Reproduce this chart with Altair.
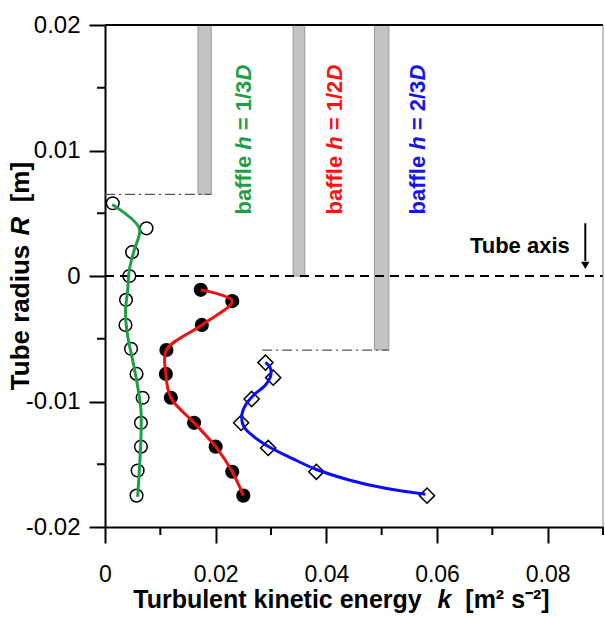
import altair as alt
import pandas as pd

# ---------------- data ----------------
# baffle h = 1/3D : open circles
green_k = [0.0014, 0.0075, 0.0049, 0.0044, 0.0038, 0.0037, 0.0047, 0.0057, 0.0068, 0.0065, 0.0065, 0.0059, 0.0057]
green_r = [0.0058, 0.0038, 0.0019, 0.0000, -0.0019, -0.0039, -0.0058, -0.0078, -0.0097, -0.0117, -0.0136, -0.0155, -0.0175]
# fitted curve for 1/3D
green_fit_k = [0.0013, 0.0062, 0.0053, 0.0044, 0.0041, 0.0037, 0.0041, 0.0050, 0.0059, 0.0065, 0.0065, 0.0062, 0.0059]
green_fit_r = [0.0057, 0.0038, 0.0021, 0.0005, -0.0011, -0.0029, -0.0048, -0.0067, -0.0088, -0.0107, -0.0128, -0.0155, -0.0176]

# baffle h = 1/2D : filled circles
red_k = [0.0173, 0.0230, 0.0175, 0.0111, 0.0110, 0.0119, 0.0161, 0.0200, 0.0230, 0.0250]
red_r = [-0.0011, -0.0020, -0.0039, -0.0059, -0.0078, -0.0097, -0.0117, -0.0136, -0.0156, -0.0175]

# baffle h = 2/3D : open diamonds
blue_k = [0.0290, 0.0304, 0.0265, 0.0246, 0.0295, 0.0382, 0.0582]
blue_r = [-0.0069, -0.0081, -0.0098, -0.0117, -0.0137, -0.0156, -0.0175]
blue_fit_k = [0.0290, 0.0299, 0.0299, 0.0290, 0.0269, 0.0254, 0.0247, 0.0251, 0.0269, 0.0296, 0.0338, 0.0381, 0.0441, 0.0507, 0.0579]
blue_fit_r = [-0.00688, -0.00735, -0.00802, -0.00869, -0.00948, -0.01028, -0.01121, -0.01201, -0.01280, -0.01360, -0.01453, -0.01540, -0.01625, -0.01692, -0.01739]

# baffles (grey plates) and their dash-dot steps
baffle_x1 = [0.0168, 0.0340, 0.0487]
baffle_x2 = [0.0192, 0.0361, 0.0513]
baffle_top = [0.02, 0.02, 0.02]
baffle_bottom = [0.0065, 0.0, -0.0059]
step_x1 = [0.0, 0.0284]
step_x2 = [0.0192, 0.0513]
step_r = [0.0065, -0.0059]

# baffle labels
label_frac = ["1/3", "1/2", "2/3"]
label_color = ["#1f9e48", "#ff1010", "#1414f0"]
label_k = [0.0264, 0.0429, 0.0579]
label_r = [0.0049, 0.0049, 0.0049]

# axis titles (text pieces; the symbol pieces are italic)
xtitle_parts = ["Turbulent kinetic energy", "k", "[m² s⁻²]"]
ytitle_parts = ["Tube radius", "R", "[m]"]

x_major = [0, 0.02, 0.04, 0.06, 0.08]
x_minor = [0.01, 0.03, 0.05, 0.07, 0.09]
y_major = [-0.02, -0.01, 0, 0.01, 0.02]
y_minor = [-0.015, -0.005, 0.005, 0.015]
x_dom = [0, 0.09]
y_dom = [-0.02, 0.02]

FONT = "Liberation Sans"
W, H = 498, 502
MINOR_PX = 8
x_per_px = (x_dom[1] - x_dom[0]) / W
y_per_px = (y_dom[1] - y_dom[0]) / H

# ---------------- scales / axes ----------------
xscale = alt.Scale(domain=x_dom, nice=False, zero=False)
yscale = alt.Scale(domain=y_dom, nice=False, zero=False)

x_axis = alt.Axis(
    values=x_major, grid=False, title=None,
    labelExpr="datum.value == 0 ? '0' : format(datum.value, '.2f')",
    tickSize=16, tickWidth=2, tickColor="black", domainColor="black", domainWidth=2,
    labelFont=FONT, labelFontSize=23, labelColor="black", labelPadding=20,
    labelFlush=False, labelOverlap=False,
)
y_axis = alt.Axis(
    values=y_major, grid=False, title=None,
    labelExpr="datum.value == 0 ? '0' : (datum.value < 0 ? '-' + format(-datum.value, '.2f') : format(datum.value, '.2f'))",
    tickSize=16, tickWidth=2, tickColor="black", domainColor="black", domainWidth=2,
    labelFont=FONT, labelFontSize=24, labelColor="black", labelPadding=9,
    labelFlush=False, labelOverlap=False,
)

# ---------------- frames ----------------
df_baffle = pd.DataFrame({"x1": baffle_x1, "x2": baffle_x2, "y1": baffle_bottom, "y2": baffle_top})
df_step = pd.DataFrame({"x1": step_x1, "x2": step_x2, "y": step_r})
df_green = pd.DataFrame({"k": green_k, "r": green_r})
df_green_fit = pd.DataFrame({"k": green_fit_k, "r": green_fit_r, "o": list(range(len(green_fit_k)))})
df_red = pd.DataFrame({"k": red_k, "r": red_r, "o": list(range(len(red_k)))})
df_blue = pd.DataFrame({"k": blue_k, "r": blue_r})
df_blue_fit = pd.DataFrame({"k": blue_fit_k, "r": blue_fit_r, "o": list(range(len(blue_fit_k)))})
df_label = pd.DataFrame({"frac": label_frac, "c": label_color, "k": label_k, "r": label_r})
df_axisline = pd.DataFrame({"x1": [x_dom[0]], "x2": [x_dom[1]], "y": [0.0]})
df_top = pd.DataFrame({"x1": [x_dom[0]], "x2": [x_dom[1]], "y": [y_dom[1]]})
df_right = pd.DataFrame({"x": [x_dom[1]], "y1": [y_dom[0]], "y2": [y_dom[1]]})
df_xminor = pd.DataFrame({"k": x_minor, "r1": [y_dom[0]] * len(x_minor),
                          "r2": [y_dom[0] - MINOR_PX * y_per_px] * len(x_minor)})
df_yminor = pd.DataFrame({"r": y_minor, "k1": [x_dom[0]] * len(y_minor),
                          "k2": [x_dom[0] - MINOR_PX * x_per_px] * len(y_minor)})
df_tubetext = pd.DataFrame({"k": [0.0840], "r": [0.00183], "t": ["Tube axis"]})
df_arrow = pd.DataFrame({"k": [0.0868], "r1": [0.0042], "r2": [0.0012]})
df_arrowhead = pd.DataFrame({"k": [0.0868], "r": [0.00085]})
# anchors of the axis-title texts (start of each title, in data units outside the plot)
df_xtitle = pd.DataFrame({"k": [0.0051], "r": [-0.02645]})
df_ytitle = pd.DataFrame({"k": [-0.0137], "r": [-0.0091]})

# ---------------- layers ----------------
baffles = alt.Chart(df_baffle).mark_rect(fill="#c3c3c3", stroke="#9a9a9a", strokeWidth=1).encode(
    x=alt.X("x1:Q", scale=xscale, axis=x_axis),
    x2="x2:Q",
    y=alt.Y("y1:Q", scale=yscale, axis=y_axis),
    y2="y2:Q",
)

xminor = alt.Chart(df_xminor).mark_rule(color="black", strokeWidth=2).encode(
    x=alt.X("k:Q", scale=xscale), y=alt.Y("r1:Q", scale=yscale), y2="r2:Q"
)
yminor = alt.Chart(df_yminor).mark_rule(color="black", strokeWidth=2).encode(
    x=alt.X("k1:Q", scale=xscale), x2="k2:Q", y=alt.Y("r:Q", scale=yscale)
)

steps = alt.Chart(df_step).mark_rule(color="#555555", strokeWidth=1.3, strokeDash=[10, 4, 2, 4]).encode(
    x=alt.X("x1:Q", scale=xscale), x2="x2:Q", y=alt.Y("y:Q", scale=yscale)
)

axisline = alt.Chart(df_axisline).mark_rule(color="black", strokeWidth=2, strokeDash=[9, 6]).encode(
    x=alt.X("x1:Q", scale=xscale), x2="x2:Q", y=alt.Y("y:Q", scale=yscale)
)

top_border = alt.Chart(df_top).mark_rule(color="black", strokeWidth=2).encode(
    x=alt.X("x1:Q", scale=xscale), x2="x2:Q", y=alt.Y("y:Q", scale=yscale)
)
right_border = alt.Chart(df_right).mark_rule(color="#888888", strokeWidth=1).encode(
    x=alt.X("x:Q", scale=xscale), y=alt.Y("y1:Q", scale=yscale), y2="y2:Q"
)

green_pts = alt.Chart(df_green).mark_point(shape="circle", size=160, filled=False, color="black",
                                           strokeWidth=1.5, opacity=1).encode(
    x=alt.X("k:Q", scale=xscale), y=alt.Y("r:Q", scale=yscale)
)
red_pts = alt.Chart(df_red).mark_point(shape="circle", size=200, filled=True, color="black", opacity=1).encode(
    x=alt.X("k:Q", scale=xscale), y=alt.Y("r:Q", scale=yscale)
)
blue_pts = alt.Chart(df_blue).mark_point(shape="diamond", size=230, filled=False, color="black",
                                         strokeWidth=1.5, opacity=1).encode(
    x=alt.X("k:Q", scale=xscale), y=alt.Y("r:Q", scale=yscale)
)

green_line = alt.Chart(df_green_fit).mark_line(color="#1f9e48", strokeWidth=3, interpolate="catmull-rom").encode(
    x=alt.X("k:Q", scale=xscale), y=alt.Y("r:Q", scale=yscale), order="o:Q"
)
red_line = alt.Chart(df_red).mark_line(color="#ee1111", strokeWidth=3, interpolate="catmull-rom").encode(
    x=alt.X("k:Q", scale=xscale), y=alt.Y("r:Q", scale=yscale), order="o:Q"
)
blue_line = alt.Chart(df_blue_fit).mark_line(color="#0a0aff", strokeWidth=3, interpolate="catmull-rom").encode(
    x=alt.X("k:Q", scale=xscale), y=alt.Y("r:Q", scale=yscale), order="o:Q"
)

def seg(text_expr, dx, italic):
    kw = dict(angle=270, align="left", baseline="alphabetic", font=FONT, fontSize=22,
              fontWeight="bold", dx=dx)
    if italic:
        kw["fontStyle"] = "italic"
    return alt.Chart(df_label).transform_calculate(s=text_expr).mark_text(**kw).encode(
        x=alt.X("k:Q", scale=xscale), y=alt.Y("r:Q", scale=yscale),
        text="s:N", color=alt.Color("c:N", scale=None),
    )

lab1 = seg("'baffle'", 0, False)
lab2 = seg("'h'", 64.8, True)
lab3 = seg("'= ' + datum.frac", 84.3, False)
lab4 = seg("'D'", 133.9, True)

def title_seg(df, text, dx, italic, size, angle):
    kw = dict(align="left", baseline="alphabetic", font=FONT, fontSize=size,
              fontWeight="bold", color="black", dx=dx, text=text)
    if angle:
        kw["angle"] = angle
    if italic:
        kw["fontStyle"] = "italic"
    return alt.Chart(df).mark_text(**kw).encode(
        x=alt.X("k:Q", scale=xscale), y=alt.Y("r:Q", scale=yscale)
    )

xt1 = title_seg(df_xtitle, xtitle_parts[0], 0, False, 25, 0)
xt2 = title_seg(df_xtitle, xtitle_parts[1], 304.3, True, 25, 0)
xt3 = title_seg(df_xtitle, xtitle_parts[2], 332.1, False, 25, 0)
yt1 = title_seg(df_ytitle, ytitle_parts[0], 0, False, 26, 270)
yt2 = title_seg(df_ytitle, ytitle_parts[1], 154.6, True, 26, 270)
yt3 = title_seg(df_ytitle, ytitle_parts[2], 187.9, False, 26, 270)

tube_text = alt.Chart(df_tubetext).mark_text(align="right", baseline="alphabetic", font=FONT,
                                               fontSize=22, fontWeight="bold", color="black").encode(
    x=alt.X("k:Q", scale=xscale), y=alt.Y("r:Q", scale=yscale), text="t:N"
)
arrow_line = alt.Chart(df_arrow).mark_rule(color="black", strokeWidth=2).encode(
    x=alt.X("k:Q", scale=xscale), y=alt.Y("r1:Q", scale=yscale), y2="r2:Q"
)
arrow_head = alt.Chart(df_arrowhead).mark_point(shape="triangle-down", size=70, filled=True,
                                                color="black", opacity=1).encode(
    x=alt.X("k:Q", scale=xscale), y=alt.Y("r:Q", scale=yscale)
)

chart = alt.layer(
    baffles, xminor, yminor, steps, axisline, top_border, right_border,
    green_pts, red_pts, blue_pts,
    green_line, red_line, blue_line,
    lab1, lab2, lab3, lab4,
    xt1, xt2, xt3, yt1, yt2, yt3,
    tube_text, arrow_line, arrow_head,
).properties(
    width=W, height=H,
    autosize=alt.AutoSizeParams(type="none"),
    padding={"left": 105, "top": 25, "right": 2, "bottom": 92},
    background="white",
).configure_view(stroke=None)

chart.save("out.html", embed_options={"renderer": "svg", "actions": False})
